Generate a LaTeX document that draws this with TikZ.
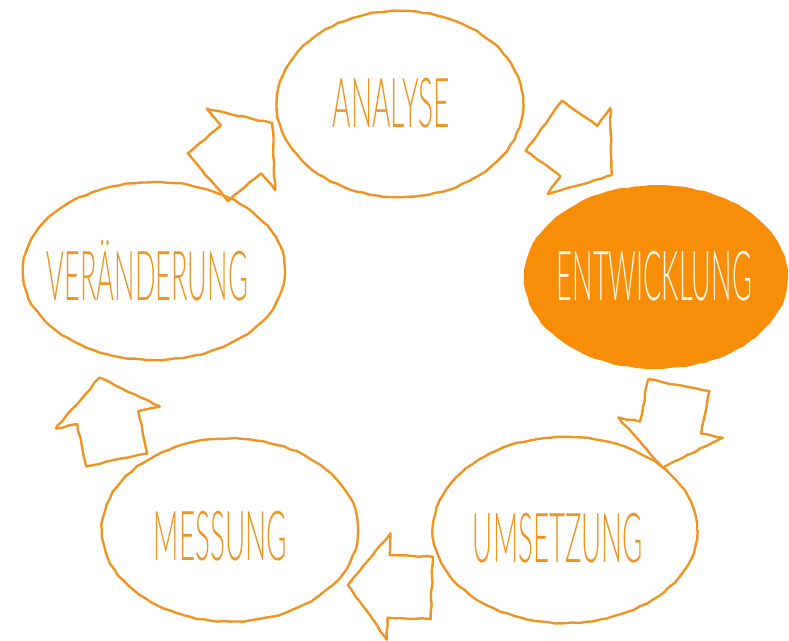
\documentclass[tikz,border=0pt]{standalone}
\usepackage{fontspec}
\usepackage{graphicx}
\usetikzlibrary{shapes.geometric,shapes.arrows,decorations.pathmorphing}
\IfFontExistsTF{Lato Light}{\newfontfamily\sketchfont{Lato Light}}{%
  \IfFontExistsTF{Open Sans Light}{\newfontfamily\sketchfont{Open Sans Light}}{\newfontfamily\sketchfont{Liberation Sans}}}
\definecolor{sketchorange}{RGB}{238,148,34}
\definecolor{fillorange}{RGB}{248,142,8}
\definecolor{cream}{RGB}{255,246,225}
\newcommand{\phaseword}[2]{\resizebox{#1}{\height}{\fontsize{49pt}{50pt}\sketchfont #2}}
\begin{document}
\begin{tikzpicture}[x=0.025cm,y=-0.025cm,line width=1.7pt,line join=round,
    sketchy/.style={decorate,decoration={random steps,segment length=5pt,amplitude=0.45pt}},
    phase/.style={ellipse,draw=sketchorange,sketchy,inner sep=0pt},
    current phase/.style={phase,draw=fillorange,fill=fillorange},
    word/.style={inner sep=0pt,anchor=base,text=sketchorange},
    cycle arrow/.style={single arrow,draw=sketchorange,sketchy,anchor=tail,inner xsep=0pt,inner ysep=0.75cm,
        minimum height=2.1cm,minimum width=2.6cm,single arrow head extend=0.55cm,single arrow tip angle=105}]
                \useasboundingbox (0,0) rectangle (789,640);
                \node[phase,minimum width=6.15cm,minimum height=4.65cm] at (400,104) (analyse) {};
                \node[current phase,minimum width=6.525cm,minimum height=4.525cm] at (656,277) (entwicklung) {};
                \node[phase,minimum width=6.6cm,minimum height=4.65cm] at (565,530) (umsetzung) {};
                \node[phase,minimum width=6.4cm,minimum height=4.575cm] at (230,530) (messung) {};
                \node[phase,minimum width=6.55cm,minimum height=4.45cm] at (154,271) (veraenderung) {};

                \node[word] at (391.5,127) (analyse text) {\phaseword{2.925cm}{ANALYSE}};
                \node[word,text=cream] at (654.5,300) (entwicklung text) {\phaseword{4.875cm}{ENTWICKLUNG}};
                \node[word] at (558,562) (umsetzung text) {\phaseword{4.25cm}{UMSETZUNG}};
                \node[word] at (220.5,560) (messung text) {\phaseword{3.325cm}{MESSUNG}};
                \node[word] at (147.5,300) (veraenderung text) {\phaseword{5.025cm}{VERÄNDERUNG}};

                \node[cycle arrow,rotate=40] at (207,178) (to analyse) {};
                \node[cycle arrow,rotate=-36] at (543,125) (to entwicklung) {};
                \node[cycle arrow,rotate=-101] at (679,384) (to umsetzung) {};
                \node[cycle arrow,rotate=178] at (433,588) (to messung) {};
                \node[cycle arrow,rotate=102] at (117,461) (to veraenderung) {};
            \end{tikzpicture}
\end{document}
